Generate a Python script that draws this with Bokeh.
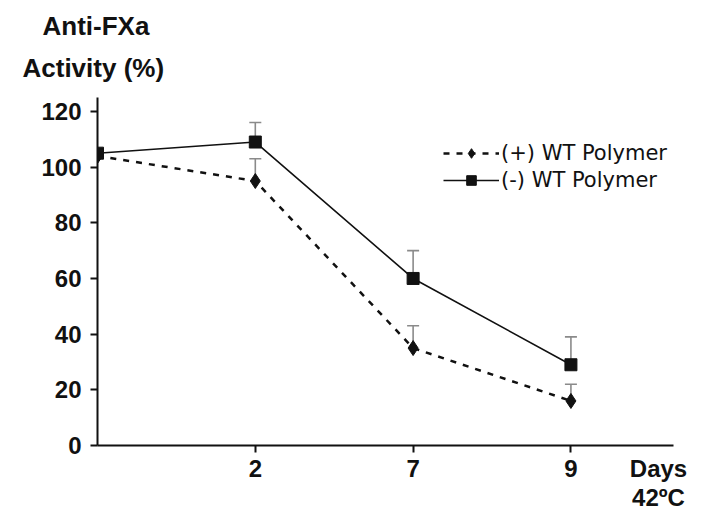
from bokeh.plotting import figure
from bokeh.models import (Range1d, FixedTicker, Legend, LegendItem, Whisker,
                          ColumnDataSource, TeeHead, Title)
from bokeh.embed import file_html
from bokeh.resources import INLINE

days = ["0", "2", "7", "9"]
plus_vals = [104, 95, 35, 16]
plus_err = [0, 8, 8, 6]
minus_vals = [105, 109, 60, 29]
minus_err = [0, 7, 10, 10]
y_ticks = [0, 20, 40, 60, 80, 100, 120]
x_title = "Days\n42ºC"
y_title = ["Anti-FXa", "Activity (%)"]

xi = list(range(len(days)))
FONT = "Liberation Sans"
W, H = 694, 514
x_title_pos = 3.555

p = figure(width=W, height=H, output_backend="svg", toolbar_location=None, title=None,
           x_range=Range1d(0, 3.65), y_range=Range1d(0, 125),
           min_border_left=97, min_border_right=21, min_border_top=97, min_border_bottom=67)
p.xgrid.visible = False
p.ygrid.visible = False
p.outline_line_color = None
p.background_fill_color = "white"

for ax in (p.xaxis, p.yaxis):
    ax.axis_line_width = 2
    ax.axis_line_color = "#111111"
    ax.major_tick_line_width = 2
    ax.major_tick_line_color = "#111111"
    ax.minor_tick_line_width = 2
    ax.minor_tick_line_color = "#111111"
    ax.major_tick_in = 0
    ax.minor_tick_in = 0
    ax.major_label_text_font = FONT
    ax.major_label_text_font_style = "bold"
    ax.major_label_text_color = "#111111"

# x axis: tick marks drawn as minor ticks so the "Days" label gets no mark
p.xaxis.ticker = FixedTicker(ticks=xi[1:] + [x_title_pos], minor_ticks=xi[1:])
overrides = {i: d for i, d in zip(xi, days)}
overrides[x_title_pos] = x_title
p.xaxis.major_label_overrides = overrides
p.xaxis.major_tick_out = 0
p.xaxis.minor_tick_out = 7
p.xaxis.major_label_standoff = 2
p.xaxis.major_label_text_font_size = "24px"
p.xaxis.major_label_text_line_height = 1.1

p.yaxis.ticker = FixedTicker(ticks=y_ticks)
p.yaxis.major_tick_out = 7
p.yaxis.minor_tick_out = 0
p.yaxis.major_label_standoff = 9
p.yaxis.major_label_text_font_size = "24px"

# error bars (upper only)
for vals, errs in ((plus_vals, plus_err), (minus_vals, minus_err)):
    xs = [x for x, e in zip(xi, errs) if e > 0]
    base = [v for v, e in zip(vals, errs) if e > 0]
    up = [v + e for v, e in zip(vals, errs) if e > 0]
    src = ColumnDataSource(dict(x=xs, lower=base, upper=up))
    w = Whisker(base="x", lower="lower", upper="upper", source=src,
                line_color="#8a8a8a", line_width=1.6,
                upper_head=TeeHead(size=12, line_color="#8a8a8a", line_width=1.6),
                lower_head=None)
    p.add_layout(w)

l1 = p.line(xi, plus_vals, line_color="#111111", line_width=2.5, line_dash="6 7")
s1 = p.scatter(xi, plus_vals, marker="diamond", size=15, color="#111111")
l2 = p.line(xi, minus_vals, line_color="#111111", line_width=1.6)
s2 = p.scatter(xi, minus_vals, marker="square", size=12, color="#111111")

legend = Legend(items=[LegendItem(label="(+) WT Polymer", renderers=[l1, s1]),
                       LegendItem(label="(-) WT Polymer", renderers=[l2, s2])],
                location=(346, 253), border_line_color=None, background_fill_alpha=0,
                label_text_font="DejaVu Sans", label_text_font_size="21px",
                label_text_color="#111111",
                glyph_width=56, glyph_height=24, label_height=24, spacing=3, padding=0,
                margin=0, label_standoff=2)
p.add_layout(legend)

# y-axis title as two stacked titles above the frame (nearest first)
p.add_layout(Title(text=y_title[1], align="left", offset=-75, standoff=29,
                   text_font=FONT, text_font_style="bold", text_font_size="26px",
                   text_color="#111111"), "above")
p.add_layout(Title(text=y_title[0], align="left", offset=-55, standoff=-9,
                   text_font=FONT, text_font_style="bold", text_font_size="26px",
                   text_color="#111111"), "above")

open("out.html", "w").write(file_html(p, INLINE))
